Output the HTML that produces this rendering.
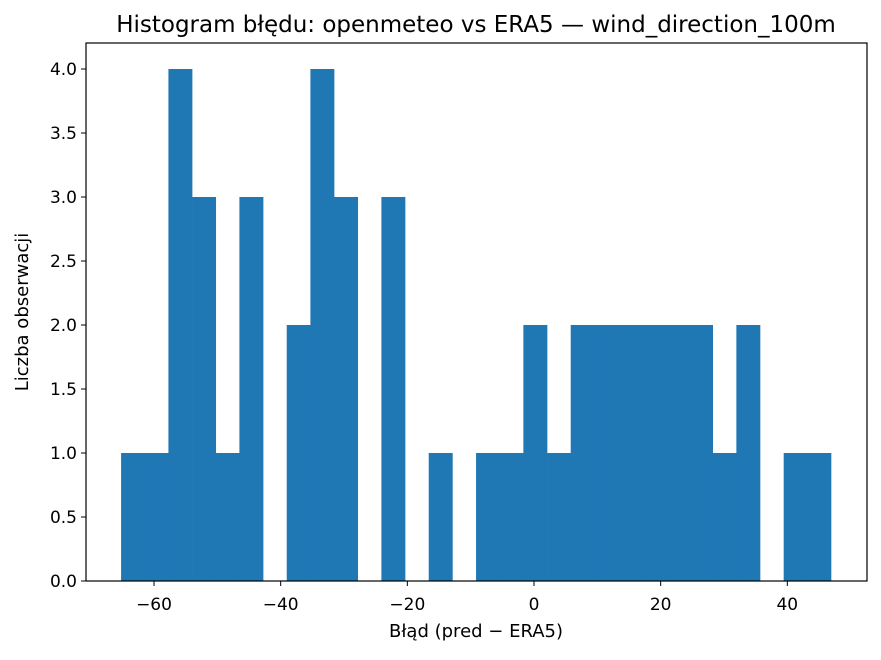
<!DOCTYPE html>
<html><head><meta charset="utf-8"><style>
body{margin:0;background:#fff;}
svg text{font-family:"DejaVu Sans","Liberation Sans",sans-serif;fill:#000;}
</style></head><body>
<svg id="chart" width="881" height="655" viewBox="0 0 881 655" xmlns="http://www.w3.org/2000/svg">
<rect width="881" height="655" fill="#fff"/>
<text x="476" y="32" font-size="23" text-anchor="middle">Histogram błędu: openmeteo vs ERA5 — wind_direction_100m</text>
<g id="bars"></g>
<g id="xticks"></g>
<g id="yticks"></g>
<rect x="86" y="43" width="781" height="538" fill="none" stroke="#000" stroke-width="1.2"/>
<text x="476" y="637" font-size="18" text-anchor="middle">Błąd (pred − ERA5)</text>
<text transform="translate(28,312) rotate(-90)" font-size="18" text-anchor="middle">Liczba obserwacji</text>
</svg>
<script>
const binStart = -65.2;
const binEnd = 46.9;
const counts = [1,1,4,3,1,3,0,2,4,3,0,3,0,1,0,1,1,2,1,2,2,2,2,2,2,1,2,0,1,1];
const xTickValues = [-60,-40,-20,0,20,40];
const xTickLabels = ["−60","−40","−20","0","20","40"];
const yTickValues = [0,0.5,1,1.5,2,2.5,3,3.5,4];
const yTickLabels = ["0.0","0.5","1.0","1.5","2.0","2.5","3.0","3.5","4.0"];

const NS = "http://www.w3.org/2000/svg";
function xs(v){ return 534 + v * 6.333; }
function ys(v){ return 581 - v * 128; }
const bw = (binEnd - binStart) / counts.length;
const bars = document.getElementById('bars');
counts.forEach((c, i) => {
  if (c <= 0) return;
  const r = document.createElementNS(NS, 'rect');
  const x0 = xs(binStart + i * bw), x1 = xs(binStart + (i + 1) * bw);
  r.setAttribute('x', x0);
  r.setAttribute('width', x1 - x0 + 0.3);
  r.setAttribute('y', ys(c));
  r.setAttribute('height', ys(0) - ys(c));
  r.setAttribute('fill', '#1f77b4');
  
  
  bars.appendChild(r);
});
const xt = document.getElementById('xticks');
xTickValues.forEach((v, i) => {
  const l = document.createElementNS(NS, 'line');
  l.setAttribute('x1', xs(v)); l.setAttribute('x2', xs(v));
  l.setAttribute('y1', 581); l.setAttribute('y2', 586);
  l.setAttribute('stroke', '#000');
  
  
  xt.appendChild(l);
  const t = document.createElementNS(NS, 'text');
  t.setAttribute('x', xs(v)); t.setAttribute('y', 610);
  t.setAttribute('font-size', '17'); t.setAttribute('text-anchor', 'middle');
  t.textContent = xTickLabels[i];
  
  
  xt.appendChild(t);
});
const yt = document.getElementById('yticks');
yTickValues.forEach((v, i) => {
  const l = document.createElementNS(NS, 'line');
  l.setAttribute('x1', 81); l.setAttribute('x2', 86);
  l.setAttribute('y1', ys(v)); l.setAttribute('y2', ys(v));
  l.setAttribute('stroke', '#000');
  
  
  yt.appendChild(l);
  const t = document.createElementNS(NS, 'text');
  t.setAttribute('x', 77); t.setAttribute('y', ys(v) + 6);
  t.setAttribute('font-size', '17'); t.setAttribute('text-anchor', 'end');
  t.textContent = yTickLabels[i];
  
  
  yt.appendChild(t);
});
</script>
</body></html>
